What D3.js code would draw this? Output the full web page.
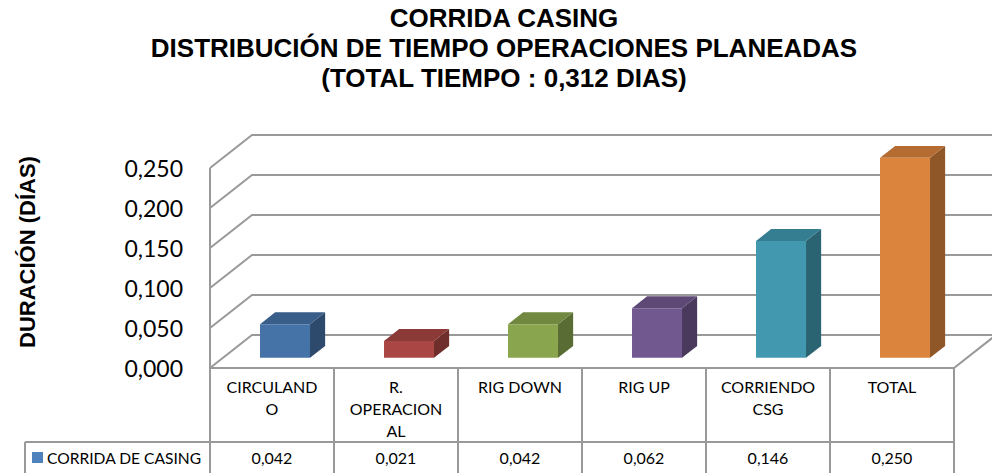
<head>
    <meta charset="utf-8">
    <style> body { margin: 0; background: #fff; } </style>
    <script src="https://d3js.org/d3.v7.min.js"></script>
</head>
<body>
    <div id="chart"></div>
    <script>

        var categories = ["CIRCULANDO", "R. OPERACIONAL", "RIG DOWN", "RIG UP", "CORRIENDO CSG", "TOTAL"];
        // lines as Excel wraps them in the data table
        var headerLines = [["CIRCULAND", "O"], ["R.", "OPERACION", "AL"], ["RIG DOWN"], ["RIG UP"], ["CORRIENDO", "CSG"], ["TOTAL"]];
        var values = [0.042, 0.021, 0.042, 0.062, 0.146, 0.250];
        var barColors = ["#4572a7", "#aa4643", "#89a54e", "#71588f", "#4198af", "#db843d"];
        var yTicks = [0, 0.05, 0.10, 0.15, 0.20, 0.25];
        var seriesName = "CORRIDA DE CASING";
        var titleLines = ["CORRIDA CASING", "DISTRIBUCIÓN DE TIEMPO OPERACIONES PLANEADAS", "(TOTAL TIEMPO : 0,312 DIAS)"];
        var yTitle = "DURACIÓN (DÍAS)";

        var W = 992, H = 473;
        var gridColor = "#999999";

        var svg = d3.select("#chart").append("svg")
            .attr("width", W)
            .attr("height", H);

        var x = d3.scaleBand()
            .domain(categories)
            .range([210, 954]);

        var y = d3.scaleLinear()
            .domain([0, 0.25])
            .range([368, 168]);

        // depth offsets of the 3d box
        var DX = 42, DY = 33;
        var f0 = 0.31, f1 = 0.67;
        function P(px, v, z) { return [px + DX * z, y(v) - DY * z]; }

        var fmt = function(v) { return d3.format(".3f")(v).replace(".", ","); };

        // title
        svg.append("g").selectAll("text")
            .data(titleLines)
            .join("text")
            .attr("x", 504)
            .attr("y", (d, i) => 27 + i * 30)
            .attr("text-anchor", "middle")
            .attr("font-family", "Liberation Sans, Arial, sans-serif")
            .attr("font-weight", "bold")
            .attr("font-size", 26)
            .attr("fill", "#000")
            .text(d => d);

        // walls and grid
        var grid = svg.append("g")
            .attr("fill", "none")
            .attr("stroke", gridColor)
            .attr("stroke-width", 2);

        var x0 = x.range()[0], x1 = x.range()[1];
        yTicks.forEach(function(t) {
            grid.append("path")
                .attr("d", d3.line()([P(x0, t, 0), P(x0, t, 1), P(x1 + 10, t, 1)]));
        });
        grid.append("path").attr("d", d3.line()([P(x0, 0.25, 0), P(x0, 0, 0), P(x1, 0, 0), P(x1, 0, 1)]));

        // tick labels
        svg.append("g").selectAll("text")
            .data(yTicks)
            .join("text")
            .attr("x", 183)
            .attr("y", d => y(d) + 9)
            .attr("text-anchor", "end")
            .attr("font-family", "Lato, sans-serif")
            .attr("font-size", 23)
            .attr("fill", "#000")
            .text(fmt);

        svg.append("text")
            .attr("transform", "translate(35,252) rotate(-90)")
            .attr("text-anchor", "middle")
            .attr("font-family", "Liberation Sans, Arial, sans-serif")
            .attr("font-weight", "bold")
            .attr("font-size", 22)
            .attr("fill", "#000")
            .text(yTitle);

        // bars
        var barW = 50;
        var bars = svg.append("g");
        categories.forEach(function(c, i) {
            var v = values[i];
            var cx = x(c) + x.bandwidth() / 2;
            var xl = cx - barW / 2, xr = cx + barW / 2;
            var col = d3.color(barColors[i]);
            var line = d3.line();
            bars.append("path")
                .attr("d", line([P(xr, 0, f0), P(xr, 0, f1), P(xr, v, f1), P(xr, v, f0)]) + "Z")
                .attr("fill", col.darker(1.2));
            bars.append("path")
                .attr("d", line([P(xl, v, f0), P(xr, v, f0), P(xr, v, f1), P(xl, v, f1)]) + "Z")
                .attr("fill", col.darker(0.55));
            bars.append("path")
                .attr("d", line([P(xl, 0, f0), P(xr, 0, f0), P(xr, v, f0), P(xl, v, f0)]) + "Z")
                .attr("fill", col);
        });

        // data table
        var table = svg.append("g")
            .attr("stroke", gridColor)
            .attr("stroke-width", 2)
            .attr("fill", "none");
        var rowTop = 368, rowMid = 442;
        d3.range(categories.length + 1).forEach(function(i) {
            var lx = x0 + i * x.bandwidth();
            table.append("line").attr("x1", lx).attr("x2", lx).attr("y1", rowTop).attr("y2", H + 5);
        });
        table.append("line").attr("x1", 25).attr("x2", x1).attr("y1", rowMid).attr("y2", rowMid);
        table.append("line").attr("x1", 25).attr("x2", 25).attr("y1", rowMid).attr("y2", H + 5);

        var cells = svg.append("g")
            .attr("font-family", "Lato, sans-serif")
            .attr("font-size", 16)
            .attr("fill", "#000")
            .attr("text-anchor", "middle");
        categories.forEach(function(c, i) {
            var cx = x(c) + x.bandwidth() / 2;
            headerLines[i].forEach(function(t, j) {
                cells.append("text").attr("x", cx).attr("y", 393 + j * 22).text(t);
            });
            cells.append("text").attr("x", cx).attr("y", 464).text(fmt(values[i]));
        });

        svg.append("rect")
            .attr("x", 32).attr("y", 452)
            .attr("width", 11).attr("height", 11)
            .attr("fill", "#4f81bd");
        svg.append("text")
            .attr("x", 47).attr("y", 464)
            .attr("font-family", "Lato, sans-serif")
            .attr("font-size", 15.6)
            .attr("fill", "#000")
            .text(seriesName);

    </script>
</body>
